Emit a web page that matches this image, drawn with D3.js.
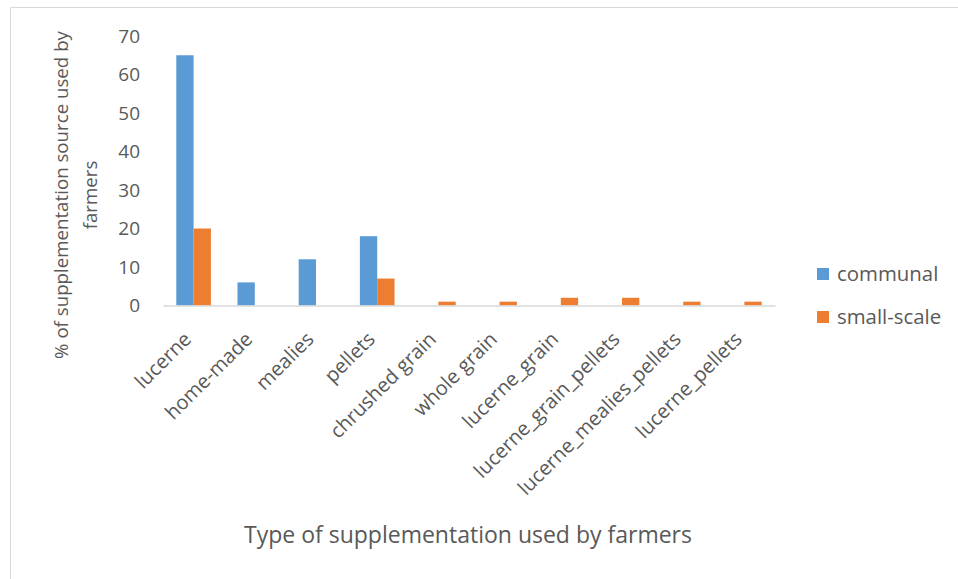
<!DOCTYPE html>
<html>
<head>
<meta charset="utf-8">
<script src="https://cdn.jsdelivr.net/npm/d3@7"></script>
<style>
  html, body { margin: 0; padding: 0; background: #fff; }
  svg { display: block; font-family: "Open Sans", sans-serif; }
</style>
</head>
<body>
<svg id="chart" width="958" height="579"></svg>
<script>
// Supplementation types and share of farmers using each (%)
const categories = ["lucerne", "home-made", "mealies", "pellets", "chrushed grain", "whole grain",
  "lucerne_grain", "lucerne_grain_pellets", "lucerne_mealies_pellets", "lucerne_pellets"];
const communal = [65, 6, 12, 18, 0, 0, 0, 0, 0, 0];
const smallScale = [20, 0, 0, 7, 1, 1, 2, 2, 1, 1];
const seriesNames = ["communal", "small-scale"];
const seriesColors = ["#5B9BD5", "#ED7D31"];
const yTicks = [0, 10, 20, 30, 40, 50, 60, 70];

const svg = d3.select("#chart");
const textColor = "#595959";

// Chart frame (top and left edges visible)
svg.append("path")
  .attr("d", "M10.5,579 L10.5,7.5 L958,7.5")
  .attr("fill", "none").attr("stroke", "#D9D9D9").attr("stroke-width", 1);

const plot = { left: 163, right: 775, top: 36, bottom: 305.5 };

const x = d3.scaleBand().domain(categories).range([plot.left, plot.right]).paddingInner(0).paddingOuter(0);
const y = d3.scaleLinear().domain([0, 70]).range([plot.bottom, plot.top]);

// Bars: two per category, group occupies ~57% of the band (gap width 150%)
const groupW = x.bandwidth() / 2.5 * 1.415;
const xs = d3.scaleBand().domain(seriesNames).range([0, groupW]);
const rows = categories.map((c, i) => ({ cat: c, vals: [communal[i], smallScale[i]] }));

const g = svg.append("g");
rows.forEach(r => {
  r.vals.forEach((v, k) => {
    if (v <= 0) return;
    g.append("rect")
      .attr("x", x(r.cat) + (x.bandwidth() - groupW) / 2 + xs(seriesNames[k]))
      .attr("y", y(v))
      .attr("width", xs.bandwidth())
      .attr("height", y(0) - y(v))
      .attr("fill", seriesColors[k]);
  });
});

// X axis line
const xAxis = d3.axisBottom(x).tickSize(0).tickFormat("");
const xg = svg.append("g").attr("transform", `translate(0,${plot.bottom})`).call(xAxis);
xg.select(".domain").attr("stroke", "#D9D9D9").attr("stroke-width", 1.5);

// Rotated category labels
svg.append("g").selectAll("text").data(categories).join("text")
  .attr("transform", d => `translate(${x(d) + x.bandwidth() / 2 - 6},${plot.bottom + 30}) rotate(-45)`)
  .attr("text-anchor", "end")
  .attr("dy", "0.35em")
  .attr("font-size", 20)
  .attr("fill", textColor)
  .text(d => d);

// Y axis tick labels
const yAxis = d3.axisLeft(y).tickValues(yTicks).tickSize(0).tickPadding(0);
const yg = svg.append("g").attr("transform", `translate(140,0)`).call(yAxis);
yg.select(".domain").remove();
yg.selectAll("text").attr("font-size", 19).attr("fill", textColor)
  .attr("font-family", "'Open Sans', sans-serif");

// Axis titles
const yTitle = svg.append("text")
  .attr("transform", "translate(68,195) rotate(-90)")
  .attr("text-anchor", "middle")
  .attr("font-size", 18.7)
  .attr("fill", textColor);
yTitle.append("tspan").attr("x", 0).attr("y", 0).text("% of supplementation source used by");
yTitle.append("tspan").attr("x", 0).attr("y", 29).text("farmers");

svg.append("text")
  .attr("x", 468).attr("y", 543)
  .attr("text-anchor", "middle")
  .attr("font-size", 23)
  .attr("fill", textColor)
  .text("Type of supplementation used by farmers");

// Legend
const legend = svg.append("g").attr("transform", "translate(817,268)");
seriesNames.forEach((name, i) => {
  const row = legend.append("g").attr("transform", `translate(0,${i * 43})`);
  row.append("rect").attr("width", 12).attr("height", 12).attr("fill", seriesColors[i]);
  row.append("text").attr("x", 20).attr("y", 6).attr("dy", "0.35em")
    .attr("font-size", 20.4).attr("fill", textColor).text(name);
});
</script>
</body>
</html>
